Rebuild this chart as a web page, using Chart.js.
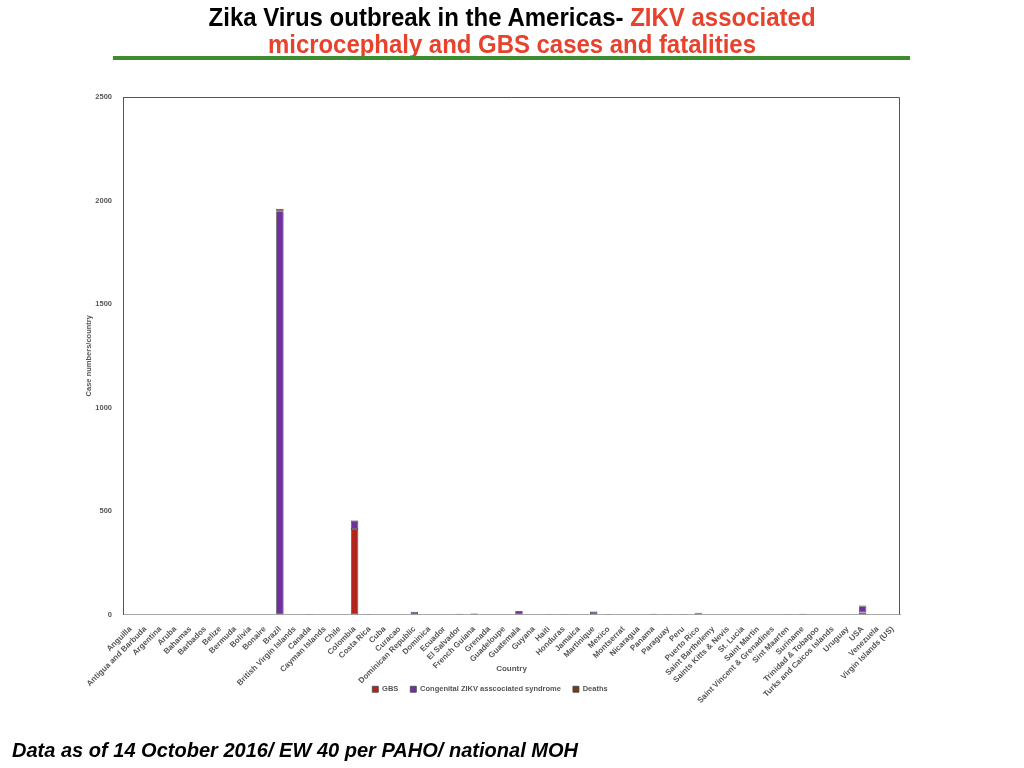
<!DOCTYPE html>
<html>
<head>
<meta charset="utf-8">
<script src="https://cdn.jsdelivr.net/npm/chart.js@4.4.1/dist/chart.umd.min.js"></script>
<style>
  body { margin: 0; background: #fff; }
  #wrap { position: absolute; left: 0; top: 0; width: 1024px; height: 768px; }
  .tline {
    position: absolute; left: 0; width: 1024px; text-align: center;
    font-family: "Liberation Sans", Arial, sans-serif;
    font-weight: bold; font-size: 25px; line-height: 25px; color: #000; white-space: nowrap;
  }
  .tline span.in { display: inline-block; transform-origin: 50% 50%; }
  .red { color: #e8412c; }
  .rule { position: absolute; left: 113px; top: 56px; width: 797px; height: 4px; background: #3d8c2e; }
  .foot {
    position: absolute; left: 12px; top: 739px;
    font-family: "Liberation Sans", Arial, sans-serif; font-weight: bold; font-style: italic;
    font-size: 20px; color: #000; white-space: nowrap;
  }
</style>
</head>
<body>
<div id="wrap"><canvas id="chart"></canvas></div>
<div class="tline" style="top:5px"><span class="in" id="t1" data-w="607">Zika Virus outbreak in the Americas- <span class="red">ZIKV associated</span></span></div>
<div class="tline" style="top:32px"><span class="in red" id="t2" data-w="488">microcephaly and GBS cases and fatalities</span></div>
<div class="rule"></div>
<div class="foot" id="foot" data-w="566">Data as of 14 October 2016/ EW 40 per PAHO/ national MOH</div>
<script>
const countries = ['Anguilla', 'Antigua and Barbuda', 'Argentina', 'Aruba', 'Bahamas', 'Barbados', 'Belize',
  'Bermuda', 'Bolivia', 'Bonaire', 'Brazil', 'British Virgin Islands', 'Canada', 'Cayman Islands', 'Chile',
  'Colombia', 'Costa Rica', 'Cuba', 'Curacao', 'Dominican Republic', 'Dominica', 'Ecuador', 'El Salvador',
  'French Guiana', 'Grenada', 'Guadeloupe', 'Guatemala', 'Guyana', 'Haiti', 'Honduras', 'Jamaica',
  'Martinique', 'Mexico', 'Montserrat', 'Nicaragua', 'Panama', 'Paraguay', 'Peru', 'Puerto Rico',
  'Saint Barthelemy', 'Saints Kitts & Nevis', 'St. Lucia', 'Saint Martin', 'Saint Vincent & Grenadines',
  'Sint Maarten', 'Suriname', 'Trinidad & Tobagoo', 'Turks and Caicos Islands', 'Uruguay', 'USA',
  'Venezuela', 'Virgin Islands (US)'];

// GBS cases
const gbs = [0, 0, 0, 0, 0, 0, 0, 0, 0, 0, 0, 0, 0, 0, 0,
  413, 0, 0, 0, 0, 0, 0, 0, 0, 0, 0, 0, 0, 0, 0, 0,
  0, 0, 0, 0, 0, 0, 0, 0, 0, 0, 0, 0, 0, 0, 0, 0, 0, 0, 10, 0, 0];

// Congenital ZIKV associated syndrome
const congenital = [0, 0, 0, 0, 0, 0, 0, 0, 0, 0, 1948, 0, 2, 0, 0,
  41, 2, 0, 0, 13, 0, 0, 4, 2, 0, 0, 17, 0, 2, 2, 0,
  14, 2, 0, 0, 4, 2, 2, 4, 0, 0, 0, 0, 0, 2, 2, 0, 0, 0, 30, 0, 0];

// Deaths
const deaths = [0, 0, 0, 0, 0, 0, 0, 0, 0, 0, 12, 0, 0, 0, 0,
  1, 0, 0, 0, 0, 0, 0, 0, 3, 0, 0, 0, 0, 0, 0, 0,
  0, 0, 0, 0, 0, 0, 0, 4, 0, 0, 0, 0, 0, 0, 2, 0, 0, 0, 4, 0, 0];

const yTicks = [0, 500, 1000, 1500, 2000, 2500];

// подгонка ширины заголовков под оригинал
['t1', 't2', 'foot'].forEach(id => {
  const el = document.getElementById(id);
  const w = el.getBoundingClientRect().width;
  const k = Number(el.dataset.w) / w;
  if (id === 'foot') { el.style.transformOrigin = '0 50%'; }
  el.style.transform = `scaleX(${k})`;
});

const tickFont = { family: 'Liberation Sans, Arial, sans-serif', size: 8, weight: 'bold' };
const smallFont = { family: 'Liberation Sans, Arial, sans-serif', size: 7.5, weight: 'bold' };

// рамка вокруг области графика (верх и право)
const frame = {
  id: 'frame',
  afterDraw(chart) {
    const { ctx, chartArea: a } = chart;
    ctx.save();
    ctx.strokeStyle = '#555';
    ctx.lineWidth = 1;
    ctx.beginPath();
    ctx.moveTo(a.left, a.top + 0.5);
    ctx.lineTo(a.right - 0.5, a.top + 0.5);
    ctx.lineTo(a.right - 0.5, a.bottom);
    ctx.stroke();
    ctx.restore();
  }
};

// легенда поднимается в зону под подписями осей
const liftLegend = {
  id: 'liftLegend',
  afterLayout(chart) {
    chart.legend.top -= 33;
    chart.legend.bottom -= 33;
  }
};

new Chart(document.getElementById('chart'), {
  type: 'bar',
  data: {
    labels: countries,
    datasets: [
      { label: 'GBS', data: gbs, backgroundColor: '#b3241c' },
      { label: 'Congenital ZIKV asscociated syndrome', data: congenital, backgroundColor: '#7030a0' },
      { label: 'Deaths', data: deaths, backgroundColor: '#7a3a14' }
    ].map(d => Object.assign(d, {
      borderColor: '#444', borderWidth: 0.8, borderSkipped: false,
      categoryPercentage: 1, barPercentage: 0.5
    }))
  },
  options: {
    responsive: true,
    maintainAspectRatio: false,
    animation: false,
    layout: { padding: { left: 80, right: 124, top: 97, bottom: 32 } },
    plugins: {
      tooltip: { enabled: false },
      legend: {
        position: 'bottom',
        labels: {
          boxWidth: 6, boxHeight: 6, padding: 12,
          color: '#555', font: smallFont
        }
      }
    },
    scales: {
      x: {
        stacked: true,
        grid: { display: false },
        border: { color: '#aaa' },
        ticks: { autoSkip: false, minRotation: 45, maxRotation: 45, color: '#555', font: tickFont, padding: 2 },
        title: { display: true, text: 'Country', color: '#555', font: tickFont, padding: { top: 0, bottom: 33 } },
        afterFit(axis) { axis.height = 92; }
      },
      y: {
        stacked: true,
        min: 0, max: 2500,
        grid: { display: false },
        border: { color: '#555' },
        afterBuildTicks(axis) { axis.ticks = yTicks.map(v => ({ value: v })); },
        ticks: { color: '#555', font: smallFont, padding: 3, callback: v => String(v) },
        title: { display: true, text: 'Case numbers/country', color: '#555', font: smallFont, padding: 4 },
        afterFit(axis) { axis.width = 43; }
      }
    }
  },
  plugins: [frame, liftLegend]
});
</script>
</body>
</html>
